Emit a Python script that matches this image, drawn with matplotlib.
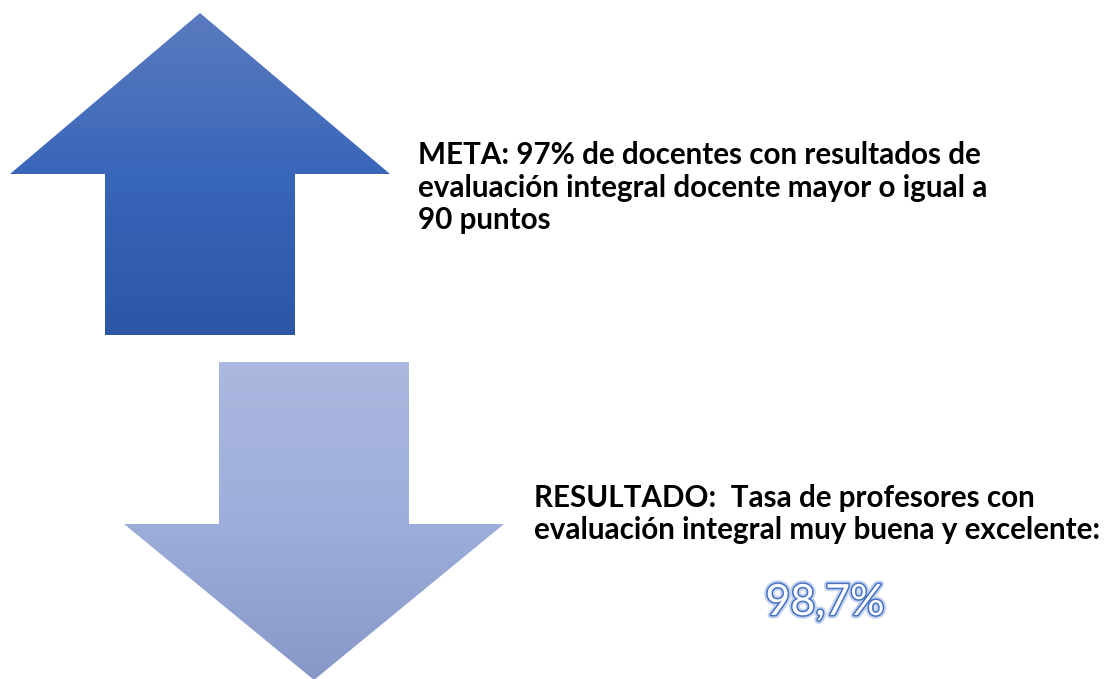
import numpy as np
import matplotlib
matplotlib.use('Agg')
import matplotlib.pyplot as plt
from matplotlib.patches import Polygon
import matplotlib.patheffects as pe
from matplotlib.colors import LinearSegmentedColormap

# arrow outlines in pixel space (x, y from top)
up_arrow = [(200, 13), (390, 174), (295, 174), (295, 335), (105, 335), (105, 174), (10, 174)]
down_arrow = [(219, 362), (409, 362), (409, 524), (504, 524), (314, 680), (124, 524), (219, 524)]
up_colors = ['#5b7bbf', '#3866b9', '#2c57a7']
down_colors = ['#abb8df', '#9eaedb', '#8797c8']

meta_lines = ["META: 97% de docentes con resultados de",
              "evaluación integral docente mayor o igual a",
              "90 puntos"]
result_lines = ["RESULTADO:  Tasa de profesores con",
                "evaluación integral muy buena y excelente:"]
result_value = "98,7%"

FONTSIZE = 21.3
LINE_STEP = 32.5


def gradient_arrow(ax, pts, colors):
    poly = Polygon(pts, closed=True, facecolor='none', edgecolor='none')
    ax.add_patch(poly)
    xs = [p[0] for p in pts]
    ys = [p[1] for p in pts]
    cmap = LinearSegmentedColormap.from_list('g', colors)
    grad = np.linspace(0, 1, 256).reshape(-1, 1)
    im = ax.imshow(grad, cmap=cmap, aspect='auto',
                   extent=(min(xs), max(xs), max(ys), min(ys)), zorder=1)
    im.set_clip_path(poly)


def text_block(ax, x, y0, lines):
    for i, line in enumerate(lines):
        ax.text(x, y0 + i * LINE_STEP, line, fontsize=FONTSIZE, fontweight='bold',
                family='Lato', color='black', va='baseline', ha='left')


def main():
    fig = plt.figure(figsize=(11.08, 6.79), dpi=100)
    ax = fig.add_axes([0, 0, 1, 1])
    ax.set_xlim(0, 1108)
    ax.set_ylim(679, 0)
    ax.axis('off')

    gradient_arrow(ax, up_arrow, up_colors)
    gradient_arrow(ax, down_arrow, down_colors)

    text_block(ax, 418, 164, meta_lines)
    text_block(ax, 534, 507, result_lines)

    ax.text(825, 615, result_value, fontsize=31, family='Lato', color='white',
            ha='center', va='baseline',
            path_effects=[pe.withStroke(linewidth=5, foreground='#c5d3ee'),
                          pe.withStroke(linewidth=2.2, foreground='#4472c4')])

    fig.savefig('out.png', dpi=100)


if __name__ == "__main__":
    main()
